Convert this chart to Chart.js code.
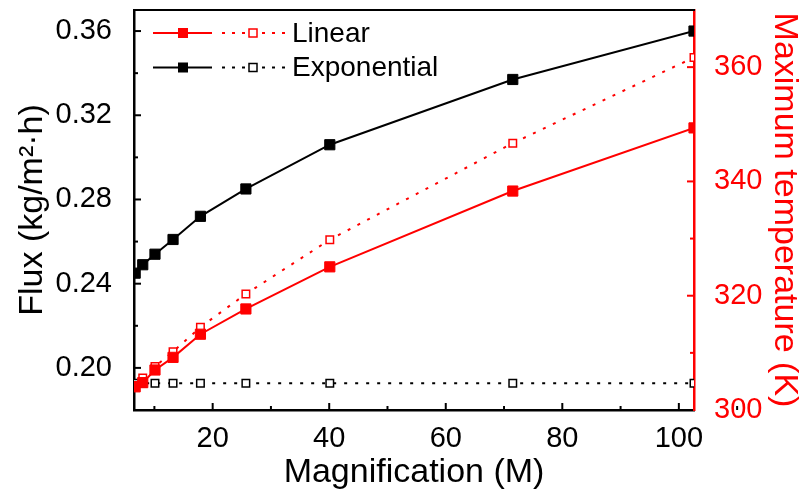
<!DOCTYPE html>
<html>
<head>
<meta charset="utf-8">
<title>Flux and maximum temperature vs magnification</title>
<script src="https://cdn.jsdelivr.net/npm/chart.js@4.4.0/dist/chart.umd.min.js"></script>
<style>
  html, body { margin: 0; padding: 0; background: #ffffff; }
</style>
</head>
<body>
<canvas id="fluxChart" width="804" height="502"></canvas>
<script>
// Magnification values (x axis)
const magnification = [6.7, 8.0, 10.1, 13.2, 17.9, 25.7, 40.1, 71.5, 102.6];

// Flux, kg/(m2 h) - left axis
const fluxExponential = [0.245, 0.249, 0.254, 0.261, 0.272, 0.285, 0.306, 0.337, 0.360];
const fluxLinear = [0.191, 0.193, 0.199, 0.205, 0.216, 0.228, 0.248, 0.284, 0.314];

// Maximum temperature, K - right axis
const tempLinear = [304.3, 305.6, 307.6, 310.2, 314.5, 320.3, 329.8, 346.7, 361.7];
const tempExponential = [304.7, 304.7, 304.7, 304.7, 304.7, 304.7, 304.7, 304.7, 304.7];

// Tick labels
const xTicks = [20, 40, 60, 80, 100];
const fluxTicks = [0.20, 0.24, 0.28, 0.32, 0.36];
const tempTicks = [300, 320, 340, 360];

const legendRows = [
  { label: "Linear", color: "#ff0000" },
  { label: "Exponential", color: "#000000" },
];

const FONT = "'Liberation Sans', Arial, Helvetica, sans-serif";
const RED = "#ff0000";
const BLACK = "#000000";

function toPoints(ys) {
  return magnification.map((x, i) => ({ x: x, y: ys[i] }));
}

function fixedTicks(values) {
  return function (scale) {
    scale.ticks = values.map((v) => ({ value: v }));
  };
}

// fixed box sizes so the plot area lands where it should
function fixHeight(h) {
  return function (s) {
    s.height = h;
    s.paddingLeft = 0;
    s.paddingRight = 0;
  };
}
function fixWidth(w) {
  return function (s) {
    s.width = w;
    s.paddingTop = 0;
    s.paddingBottom = 0;
  };
}

// Draw a small square marker (legend only)
function square(ctx, x, y, size, color, filled) {
  ctx.save();
  ctx.setLineDash([]);
  ctx.fillStyle = filled ? color : "#ffffff";
  ctx.fillRect(x - size / 2, y - size / 2, size, size);
  if (!filled) {
    ctx.strokeStyle = color;
    ctx.lineWidth = 1.5;
    ctx.strokeRect(x - size / 2, y - size / 2, size, size);
  }
  ctx.restore();
}

// Inward tick marks, minor ticks between the labelled ones, and the top frame line
const frameTicks = {
  id: "frameTicks",
  afterDraw(chart) {
    const { ctx, chartArea: a, scales } = chart;
    ctx.save();
    ctx.lineWidth = 2;

    ctx.strokeStyle = BLACK;
    ctx.beginPath();
    ctx.moveTo(a.left, a.top);
    ctx.lineTo(a.right + 1, a.top);
    ctx.stroke();

    const marks = (scale, values, color, len, side) => {
      ctx.strokeStyle = color;
      values.forEach((v) => {
        const p = scale.getPixelForValue(v);
        ctx.beginPath();
        if (side === "bottom") {
          ctx.moveTo(p, a.bottom);
          ctx.lineTo(p, a.bottom - len);
        } else if (side === "left") {
          ctx.moveTo(a.left, p);
          ctx.lineTo(a.left + len, p);
        } else {
          ctx.moveTo(a.right, p);
          ctx.lineTo(a.right - len, p);
        }
        ctx.stroke();
      });
    };
    const minors = (values, step) => {
      const out = [values[0] - step / 2];
      values.forEach((v) => out.push(v + step / 2));
      return out;
    };

    marks(scales.x, xTicks, BLACK, 7, "bottom");
    marks(scales.x, minors(xTicks, 20), BLACK, 4, "bottom");
    marks(scales.y, fluxTicks, BLACK, 7, "left");
    marks(scales.y, minors(fluxTicks, 0.04).filter((v) => v > 0.18 && v < 0.37), BLACK, 4, "left");
    marks(scales.y2, tempTicks.filter((v) => v > 300), RED, 7, "right");
    marks(scales.y2, minors(tempTicks, 20).filter((v) => v > 300 && v < 370), RED, 4, "right");
    ctx.restore();
  },
};

// Legend: solid line with filled square, then dotted line with open square
const pairLegend = {
  id: "pairLegend",
  afterDraw(chart) {
    const { ctx } = chart;
    ctx.save();
    legendRows.forEach((row, i) => {
      const y = 33 + i * 34.5;
      ctx.strokeStyle = row.color;
      ctx.lineWidth = 2;
      ctx.setLineDash([]);
      ctx.beginPath();
      ctx.moveTo(153, y);
      ctx.lineTo(212, y);
      ctx.stroke();
      square(ctx, 183, y, 10, row.color, true);

      ctx.setLineDash([3, 7]);
      ctx.beginPath();
      ctx.moveTo(222, y);
      ctx.lineTo(286, y);
      ctx.stroke();
      square(ctx, 253, y, 8, row.color, false);

      ctx.setLineDash([]);
      ctx.fillStyle = BLACK;
      ctx.font = "28px " + FONT;
      ctx.textAlign = "left";
      ctx.textBaseline = "middle";
      ctx.fillText(row.label, 292, y + 1);
    });
    ctx.restore();
  },
};

const ctx = document.getElementById("fluxChart").getContext("2d");
new Chart(ctx, {
  type: "line",
  data: {
    datasets: [
      {
        label: "Linear flux",
        data: toPoints(fluxLinear),
        yAxisID: "y",
        borderColor: RED,
        backgroundColor: RED,
        borderWidth: 2,
        pointStyle: "rect",
        pointRadius: 7.2,
        pointBorderWidth: 1,
      },
      {
        label: "Exponential flux",
        data: toPoints(fluxExponential),
        yAxisID: "y",
        borderColor: BLACK,
        backgroundColor: BLACK,
        borderWidth: 2,
        pointStyle: "rect",
        pointRadius: 7.2,
        pointBorderWidth: 1,
      },
      {
        label: "Linear temperature",
        data: toPoints(tempLinear),
        yAxisID: "y2",
        borderColor: RED,
        backgroundColor: "#ffffff",
        borderWidth: 2,
        borderDash: [3, 8],
        pointStyle: "rect",
        pointRadius: 5.3,
        pointBorderWidth: 1.5,
      },
      {
        label: "Exponential temperature",
        data: toPoints(tempExponential),
        yAxisID: "y2",
        borderColor: BLACK,
        backgroundColor: "#ffffff",
        borderWidth: 2,
        borderDash: [3, 8],
        pointStyle: "rect",
        pointRadius: 5.3,
        pointBorderWidth: 1.5,
      },
    ],
  },
  options: {
    responsive: false,
    animation: false,
    layout: { padding: { top: 10, left: 0, right: 0, bottom: 0 } },
    plugins: {
      legend: { display: false },
      tooltip: { enabled: false },
    },
    scales: {
      x: {
        type: "linear",
        position: "bottom",
        min: 6.5,
        max: 102.6,
        afterBuildTicks: fixedTicks(xTicks),
        afterFit: fixHeight(92),
        grid: { display: false },
        border: { display: true, color: BLACK, width: 2.5 },
        ticks: { color: BLACK, padding: 4, font: { family: FONT, size: 29 } },
        title: {
          display: true,
          text: "Magnification (M)",
          color: BLACK,
          font: { family: FONT, size: 34, lineHeight: 1 },
          padding: { top: 0, bottom: 12 },
        },
      },
      y: {
        type: "linear",
        position: "left",
        min: 0.18,
        max: 0.37,
        afterBuildTicks: fixedTicks(fluxTicks),
        afterFit: fixWidth(134),
        grid: { display: false },
        border: { display: true, color: BLACK, width: 2.5 },
        ticks: {
          color: BLACK,
          padding: 14,
          font: { family: FONT, size: 29 },
          callback: (v) => v.toFixed(2),
        },
        title: {
          display: true,
          text: "Flux (kg/m²·h)",
          color: BLACK,
          font: { family: FONT, size: 34, lineHeight: 1 },
          padding: { top: 16, bottom: 0 },
        },
      },
      y2: {
        type: "linear",
        position: "right",
        min: 300,
        max: 370,
        afterBuildTicks: fixedTicks(tempTicks),
        afterFit: fixWidth(110),
        grid: { display: false },
        border: { display: true, color: RED, width: 2.5 },
        ticks: { color: RED, padding: 12, font: { family: FONT, size: 29 } },
        title: {
          display: true,
          text: "Maximum temperature (K)",
          color: RED,
          font: { family: FONT, size: 34, lineHeight: 1 },
          padding: { top: 3, bottom: 0 },
        },
      },
    },
  },
  plugins: [frameTicks, pairLegend],
});
</script>
</body>
</html>
